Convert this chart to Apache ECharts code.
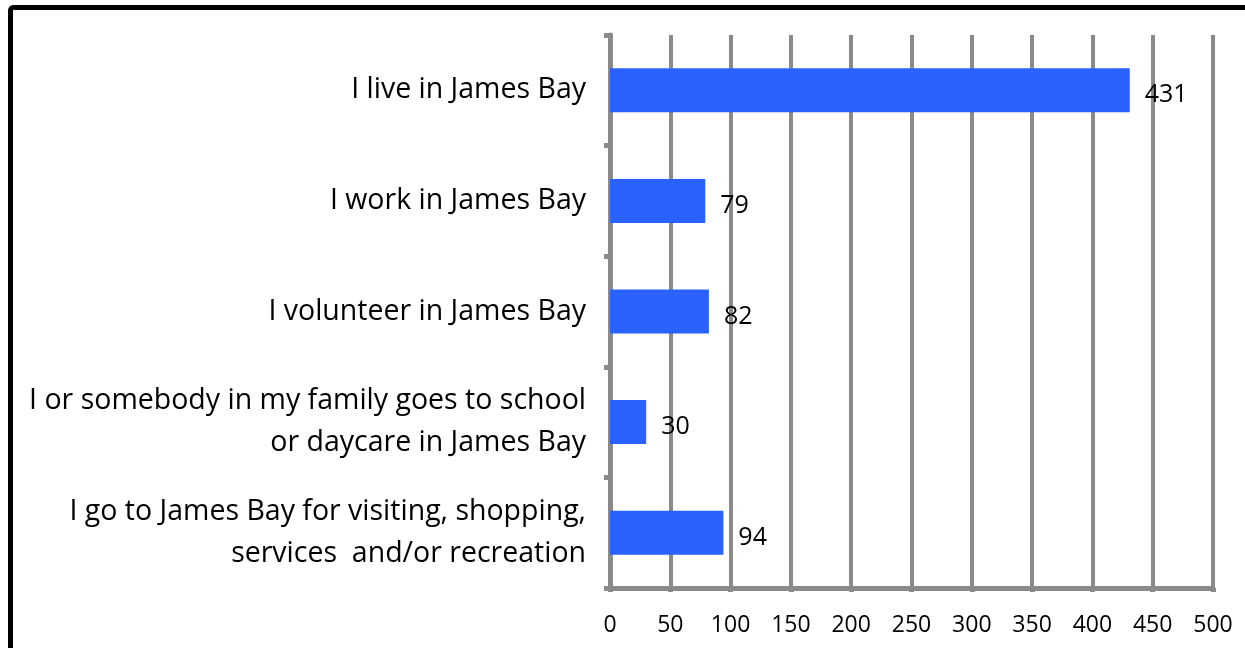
<!DOCTYPE html>
<html>
<head>
<meta charset="utf-8">
<script src="https://cdn.jsdelivr.net/npm/echarts@6/dist/echarts.min.js"></script>
<style>
  html, body { margin: 0; padding: 0; background: #fff; }
  #chart { width: 1245px; height: 648px; }
</style>
</head>
<body>
<div id="chart"></div>
<script>
// categories top to bottom
const categories = [
  'I live in James Bay',
  'I work in James Bay',
  'I volunteer in James Bay',
  'I or somebody in my family goes to school\nor daycare in James Bay',
  'I go to James Bay for visiting, shopping,\nservices  and/or recreation'
];
const counts = [431, 79, 82, 30, 94];
const xTicks = [0, 50, 100, 150, 200, 250, 300, 350, 400, 450, 500];

const gray = '#8a8a8a';
const chart = echarts.init(document.getElementById('chart'));

const option = {
  backgroundColor: '#fff',
  animation: false,
  graphic: [{
    type: 'rect',
    shape: { x: 10.5, y: 7.5, width: 1300, height: 700, r: 3 },
    style: { fill: 'none', stroke: '#000', lineWidth: 5 },
    z: 100
  }],
  grid: { left: 610, right: 32, top: 35, bottom: 60 },
  xAxis: {
    type: 'value',
    min: xTicks[0],
    max: xTicks[xTicks.length - 1],
    interval: 50,
    axisLine: { show: true, lineStyle: { color: gray, width: 5 } },
    axisTick: { show: true, length: 4, lineStyle: { color: gray, width: 5 } },
    splitLine: { show: true, lineStyle: { color: gray, width: 4 } },
    axisLabel: {
      color: '#000',
      fontFamily: 'Open Sans',
      fontSize: 23,
      margin: 26
    }
  },
  yAxis: {
    type: 'category',
    inverse: true,
    data: categories,
    axisLine: { show: true, lineStyle: { color: gray, width: 5 } },
    axisTick: { show: true, length: 6, lineStyle: { color: gray, width: 5 } },
    axisLabel: {
      color: '#000',
      fontFamily: 'Open Sans',
      fontSize: 28.5,
      lineHeight: 42,
      align: 'right',
      margin: 24
    }
  },
  series: [{
    type: 'bar',
    data: counts,
    barWidth: 44,
    itemStyle: { color: '#2962ff' },
    label: {
      show: true,
      position: 'right',
      distance: 15,
      offset: [0, 5],
      color: '#000',
      fontFamily: 'Open Sans',
      fontSize: 25
    }
  }]
};

chart.setOption(option);
</script>
</body>
</html>
